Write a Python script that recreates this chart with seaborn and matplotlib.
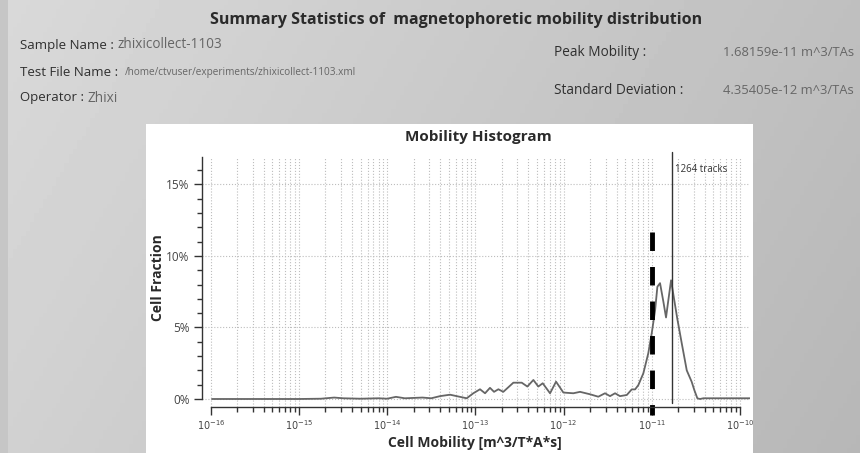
import numpy as np
import pandas as pd
import matplotlib
matplotlib.use("Agg")
import matplotlib.pyplot as plt
import seaborn as sns
from matplotlib.patches import Rectangle
from matplotlib.ticker import FixedLocator, FuncFormatter, NullFormatter, MultipleLocator

# ---------------- data ----------------
log_mobility = [
    -15.985, -15.0, -14.75, -14.6, -14.5, -14.3, -14.1, -14.0, -13.9, -13.8,
    -13.6, -13.5, -13.400, -13.287, -13.174, -13.098, -13.023, -12.947, -12.890,
    -12.834, -12.788, -12.739, -12.683, -12.569, -12.474, -12.410, -12.342,
    -12.286, -12.236, -12.153, -12.085, -12.002, -11.889, -11.813, -11.700,
    -11.606, -11.530, -11.473, -11.416, -11.360, -11.283, -11.227, -11.189,
    -11.152, -11.095, -11.039, -11.000, -10.962, -10.936, -10.906, -10.868,
    -10.838, -10.812, -10.781, -10.747, -10.710, -10.660, -10.603, -10.547,
    -10.517, -10.483, -10.453, -10.415, -9.886,
]
cell_fraction_pct = [
    0.0, 0.0, 0.02, 0.10, 0.05, 0.02, 0.05, 0.02, 0.15, 0.05,
    0.10, 0.05, 0.20, 0.30, 0.15, 0.05, 0.40, 0.68, 0.40,
    0.78, 0.50, 0.68, 0.50, 1.14, 1.14, 0.87, 1.33,
    0.87, 1.10, 0.40, 1.21, 0.45, 0.40, 0.50, 0.33,
    0.16, 0.40, 0.20, 0.40, 0.20, 0.28, 0.67, 0.67,
    0.97, 1.80, 3.20, 4.60, 6.20, 7.85, 8.10, 6.80,
    5.70, 6.90, 8.30, 7.00, 5.60, 3.90, 2.00, 1.20,
    0.62, 0.05, 0.00, 0.05, 0.05,
]
peak_mobility = 1.68159e-11
dashed_mobility = 1e-11
track_label = "1264 tracks"
x_tick_exponents = [-16, -15, -14, -13, -12, -11, -10]
y_ticks_pct = [0, 5, 10, 15]

header_title = "Summary Statistics of  magnetophoretic mobility distribution"
left_labels = ["Sample Name :", "Test File Name :", "Operator :"]
left_values = ["zhixicollect-1103", "/home/ctvuser/experiments/zhixicollect-1103.xml", "Zhixi"]
right_labels = ["Peak Mobility :", "Standard Deviation :"]
right_values = ["1.68159e-11 m^3/TAs", "4.35405e-12 m^3/TAs"]

# ---------------- figure ----------------
sns.set_theme(style="white")
plt.rcParams['font.family'] = ['Open Sans', 'DejaVu Sans']

W, H = 860, 453
fig = plt.figure(figsize=(W / 100, H / 100), dpi=100)


def fx(px):
    return px / W


def fy(py):
    return 1 - py / H


# background gradient + white panel
bg = fig.add_axes([0, 0, 1, 1], zorder=-10)
xx, yy = np.meshgrid(np.linspace(0, 1, 200), np.linspace(0, 1, 100))
grad = 217 - 26 * xx - 8 * yy
bg.imshow(grad, cmap='gray', vmin=0, vmax=255, extent=[0, 1, 0, 1], aspect='auto', origin='upper')
bg.add_patch(Rectangle((0, 0), fx(8), 1, facecolor='#c6c6c6', edgecolor='none'))
bg.add_patch(Rectangle((fx(146), 0), fx(753) - fx(146), fy(124), facecolor='white', edgecolor='none'))
bg.set_xlim(0, 1)
bg.set_ylim(0, 1)
bg.axis('off')

renderer = fig.canvas.get_renderer()

# header texts
fig.text(fx(456), fy(20), header_title, ha='center', va='center', fontsize=11.5,
         fontweight='bold', color='#2a2a2a')
left_rows = [45, 72, 98]
left_value_x = [112, 125, 83]
left_value_size = [9.8, 7.2, 9.8]
for lab, val, yy_, vx, vs in zip(left_labels, left_values, left_rows, left_value_x, left_value_size):
    t = fig.text(fx(20), fy(yy_), lab, ha='left', va='center', fontsize=9.5, color='#2f2f2f')
    end = t.get_window_extent(renderer).x1
    fig.text(fx(max(vx, end + 4)), fy(yy_), val, ha='left', va='center', fontsize=vs, color='#666666')
right_rows = [52, 90]
for lab, val, yy_ in zip(right_labels, right_values, right_rows):
    fig.text(fx(554), fy(yy_), lab, ha='left', va='center', fontsize=9.8, color='#2f2f2f')
    fig.text(fx(723), fy(yy_), val, ha='left', va='center', fontsize=9.4, color='#666666')

# main axes
ax = fig.add_axes([fx(202), fy(407), fx(750) - fx(202), (407 - 157) / H])
ax.set_facecolor('none')

df = pd.DataFrame({'mobility': 10.0 ** np.array(log_mobility), 'fraction': cell_fraction_pct})
sns.lineplot(data=df, x='mobility', y='fraction', ax=ax, color='#666666', linewidth=1.3,
             estimator=None, sort=False)
ax.set_xscale('log')
ax.set_xlim(10 ** -16.099, 10 ** -9.886)
ax.set_ylim(-0.56, 16.92)

major_x = 10.0 ** np.array(x_tick_exponents)
minor_x = [m * 10.0 ** e for e in x_tick_exponents[:-1] for m in range(2, 10)]
ax.xaxis.set_major_locator(FixedLocator(major_x))
ax.xaxis.set_minor_locator(FixedLocator(minor_x))
ax.xaxis.set_major_formatter(FuncFormatter(lambda v, p: r"$10^{%d}$" % int(round(np.log10(v)))))
ax.xaxis.set_minor_formatter(NullFormatter())
ax.yaxis.set_major_locator(FixedLocator(y_ticks_pct))
ax.yaxis.set_minor_locator(MultipleLocator(1))
ax.yaxis.set_major_formatter(FuncFormatter(lambda v, p: "%d%%" % v))

ax.grid(True, which='both', axis='x', linestyle=':', color='#bdbdbd', linewidth=0.8)
ax.grid(True, which='major', axis='y', linestyle=':', color='#bdbdbd', linewidth=0.8)

for s in ['top', 'right']:
    ax.spines[s].set_visible(False)
for s in ['left', 'bottom']:
    ax.spines[s].set_color('#333333')
    ax.spines[s].set_linewidth(1.0)
ax.spines['left'].set_bounds(0, 16.92)
ax.spines['bottom'].set_bounds(1e-16, 1e-10)

ax.tick_params(axis='both', which='both', bottom=True, left=True, direction='out',
               color='#333333', width=1.0)
ax.tick_params(axis='both', which='major', length=6)
ax.tick_params(axis='both', which='minor', length=3.5)
ax.tick_params(axis='x', which='major', labelsize=7, labelcolor='#444444', pad=3)
ax.tick_params(axis='y', which='major', labelsize=8.5, labelcolor='#444444', pad=3)
ax.set_xlabel('')
ax.set_ylabel('')

# marker lines
ax.plot([peak_mobility, peak_mobility], [17.27, -0.28], color='#333333', linewidth=1.0,
        clip_on=False)
ax.plot([dashed_mobility, dashed_mobility], [11.68, -1.12], color='black', linewidth=3.5,
        linestyle=(0, (3.8, 3.3)), dash_capstyle='butt', clip_on=False)
fig.text(fx(675), fy(169), track_label, ha='left', va='center', fontsize=7, color='#333333')

# titles / axis labels
fig.text(fx(478), fy(137), 'Mobility Histogram', ha='center', va='center', fontsize=11,
         fontweight='bold', color='#2a2a2a')
fig.text(fx(475), fy(443), 'Cell Mobility [m^3/T*A*s]', ha='center', va='center', fontsize=10,
         fontweight='bold', color='#2a2a2a')
fig.text(fx(158), fy(278), 'Cell Fraction', ha='center', va='center', fontsize=10,
         fontweight='bold', color='#2a2a2a', rotation=90)

fig.savefig('out.png', dpi=100)
